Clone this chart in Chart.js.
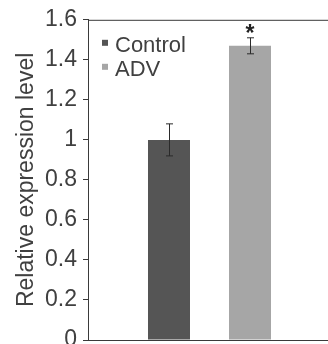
<!DOCTYPE html>
<html>
<head>
<meta charset="utf-8">
<script src="https://cdn.jsdelivr.net/npm/chart.js@4"></script>
<style>
  html, body { margin: 0; padding: 0; background: #fff; overflow: hidden; }
  #wrap { width: 334px; height: 360px; }
</style>
</head>
<body>
<div id="wrap"><canvas id="chart" width="334" height="360"></canvas></div>
<script>
// values
const groups = ['Control', 'ADV'];
const means = [1.0, 1.47];
const errors = [0.08, 0.04];
const marks = ['', '*'];
const barColors = ['#555555', '#a6a6a6'];
const yTickLabels = ['0', '0.2', '0.4', '0.6', '0.8', '1', '1.2', '1.4', '1.6'];

const FONT = 'Liberation Sans, Arial, sans-serif';
const INK = '#3a3a3a';

// error bars, significance marks, legend and top frame line
const extras = {
    id: 'extras',
    afterDatasetsDraw(chart) {
        const ctx = chart.ctx;
        const y = chart.scales.y;
        const area = chart.chartArea;
        ctx.save();
        ctx.strokeStyle = INK;
        ctx.lineWidth = 1;
        // top frame line
        ctx.beginPath();
        ctx.moveTo(area.left, area.top + 0.5);
        ctx.lineTo(chart.width, area.top + 0.5);
        ctx.stroke();

        groups.forEach((g, i) => {
            const bar = chart.getDatasetMeta(i).data[0];
            const x = Math.round(bar.x) + 0.5;
            const yTop = y.getPixelForValue(means[i] + errors[i]);
            const yBot = y.getPixelForValue(means[i] - errors[i]);
            ctx.strokeStyle = '#2a2a2a';
            ctx.beginPath();
            ctx.moveTo(x, yTop); ctx.lineTo(x, yBot);
            ctx.moveTo(x - 3.5, yTop); ctx.lineTo(x + 3.5, yTop);
            ctx.moveTo(x - 3.5, yBot); ctx.lineTo(x + 3.5, yBot);
            ctx.stroke();
            if (marks[i]) {
                ctx.fillStyle = '#222';
                ctx.font = 'bold 23px ' + FONT;
                ctx.textAlign = 'center';
                ctx.textBaseline = 'alphabetic';
                ctx.fillText(marks[i], bar.x, yTop + 3);
            }
        });

        // legend inside the plot, top left
        ctx.font = '22px ' + FONT;
        ctx.textAlign = 'left';
        ctx.textBaseline = 'alphabetic';
        groups.forEach((g, i) => {
            const base = area.top + 32 + i * 24;
            ctx.fillStyle = barColors[i];
            ctx.fillRect(area.left + 14, base - 12, 6, 6);
            ctx.fillStyle = '#404040';
            ctx.fillText(g, area.left + 27, base);
        });
        ctx.restore();
    }
};

const datasets = groups.map((g, i) => ({
    label: g,
    data: [means[i]],
    backgroundColor: barColors[i],
    borderWidth: 0,
    categoryPercentage: 0.6667,
    barPercentage: 0.5185
}));

new Chart(document.getElementById('chart'), {
    type: 'bar',
    data: { labels: [''], datasets },
    options: {
        responsive: false,
        devicePixelRatio: 1,
        animation: false,
        layout: { padding: { top: 17, right: 3, bottom: 20, left: 0 } },
        plugins: { legend: { display: false }, tooltip: { enabled: false } },
        scales: {
            x: {
                grid: { display: false },
                ticks: { display: false },
                border: { display: true, color: INK, width: 1 },
                afterFit(scale) { scale.height = 0; }
            },
            y: {
                min: 0,
                max: 1.6,
                ticks: {
                    stepSize: 0.2,
                    padding: 6,
                    color: '#404040',
                    font: { family: FONT, size: 23 },
                    callback: (v, idx) => yTickLabels[idx]
                },
                grid: { display: true, drawOnChartArea: false, drawTicks: true, tickLength: 5, color: INK },
                border: { display: true, color: INK, width: 1 },
                title: {
                    display: true,
                    text: 'Relative expression level',
                    color: '#404040',
                    font: { family: FONT, size: 23 },
                    padding: { top: 13, bottom: 0 }
                },
                afterFit(scale) { scale.width = 88; }
            }
        }
    },
    plugins: [extras]
});
</script>
</body>
</html>
